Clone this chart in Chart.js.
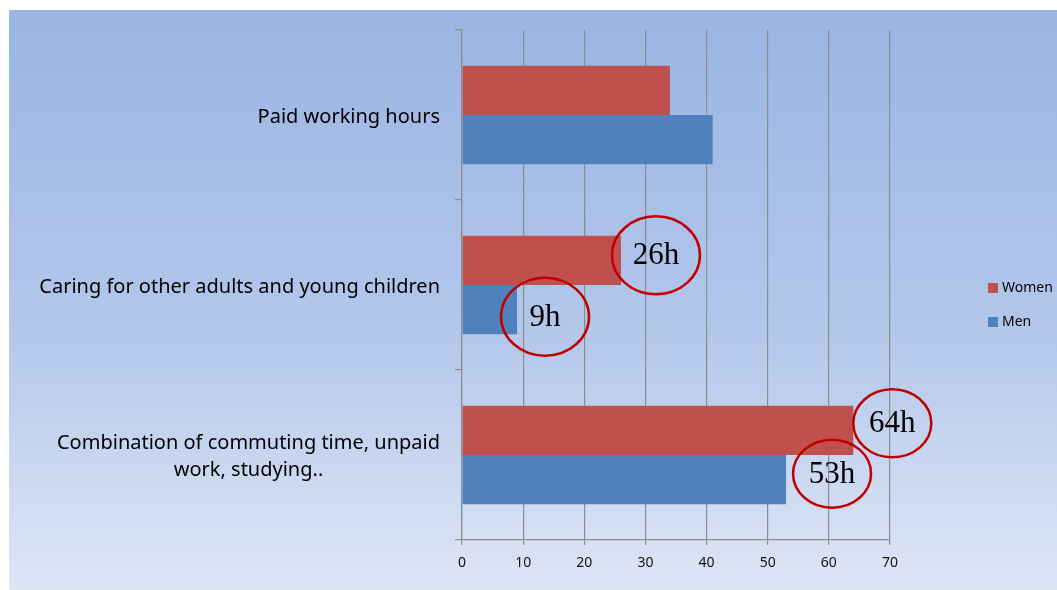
<!DOCTYPE html>
<html>
<head>
<meta charset="utf-8">
<script src="https://cdn.jsdelivr.net/npm/chart.js@4/dist/chart.umd.min.js"></script>
<style>
  html, body { margin: 0; padding: 0; background: #fff; }
  #wrap {
    position: absolute; left: 9px; top: 10px; width: 1048px; height: 580px;
    background: linear-gradient(to bottom, #9ab5e3 0%, #b3c7eb 55%, #dee6f5 100%);
  }
  canvas { display: block; }
</style>
</head>
<body>
<div id="wrap"><canvas id="chart" width="1048" height="580"></canvas></div>
<script>
const categories = [
  ["Paid working hours"],
  ["Caring for other adults and young children"],
  ["Combination of commuting time, unpaid", "work, studying.."],
];
const women = [34, 26, 64];
const men = [41, 9, 53];
const xTicks = [0, 10, 20, 30, 40, 50, 60, 70];

// which bars get a circled label: [dataset index, category index]
const circled = [[0, 1], [1, 1], [0, 2], [1, 2]];
// ellipse placement relative to the bar end (style only)
const circleStyle = [
  { dx: 35, dy: -5, rx: 44, ry: 39 },
  { dx: 28, dy: 7, rx: 44, ry: 39 },
  { dx: 39, dy: -7, rx: 39, ry: 34 },
  { dx: 46, dy: -6, rx: 39, ry: 34 },
];

const gridGray = "#8c8c8c";
const sans = "'Noto Sans', 'Open Sans', sans-serif";
const labelFont = "20px " + sans;

// category labels: block right aligned, lines centred within the block
const categoryLabels = {
  id: "categoryLabels",
  afterDraw(chart) {
    const ctx = chart.ctx;
    const y = chart.scales.y;
    ctx.save();
    ctx.font = labelFont;
    ctx.fillStyle = "#000";
    ctx.textBaseline = "middle";
    ctx.textAlign = "center";
    const lineH = 27;
    categories.forEach((lines, i) => {
      const cy = y.getPixelForValue(i) + 2;
      const w = Math.max(...lines.map((l) => ctx.measureText(l).width));
      const cx = y.right - 22 - w / 2;
      lines.forEach((l, k) => {
        ctx.fillText(l, cx, cy + (k - (lines.length - 1) / 2) * lineH);
      });
    });
    ctx.restore();
  },
};

const circles = {
  id: "circles",
  afterDatasetsDraw(chart) {
    const ctx = chart.ctx;
    ctx.save();
    circled.forEach(([ds, i], n) => {
      const el = chart.getDatasetMeta(ds).data[i];
      const s = circleStyle[n];
      const cx = el.x + s.dx;
      const cy = el.y + s.dy;
      ctx.beginPath();
      ctx.ellipse(cx, cy, s.rx, s.ry, 0, 0, Math.PI * 2);
      ctx.strokeStyle = "#c00000";
      ctx.lineWidth = 2.5;
      ctx.stroke();
      ctx.fillStyle = "#000";
      ctx.font = "31px 'Liberation Serif', 'Times New Roman', serif";
      ctx.textAlign = "center";
      ctx.textBaseline = "middle";
      ctx.fillText(chart.data.datasets[ds].data[i] + "h", cx, cy + 1);
    });
    ctx.restore();
  },
};

const sideLegend = {
  id: "sideLegend",
  afterDraw(chart) {
    const ctx = chart.ctx;
    ctx.save();
    ctx.font = "14px " + sans;
    ctx.textBaseline = "middle";
    ctx.textAlign = "left";
    chart.data.datasets.forEach((d, k) => {
      const top = 273 + k * 34;
      ctx.fillStyle = d.backgroundColor;
      ctx.fillRect(979, top, 10, 10);
      ctx.fillStyle = "#000";
      ctx.fillText(d.label, 993, top + 5);
    });
    ctx.restore();
  },
};

new Chart(document.getElementById("chart"), {
  type: "bar",
  data: {
    labels: categories,
    datasets: [
      { label: "Women", data: women, backgroundColor: "#c0504d" },
      { label: "Men", data: men, backgroundColor: "#4f81bd" },
    ],
  },
  options: {
    indexAxis: "y",
    responsive: false,
    animation: false,
    categoryPercentage: 0.58,
    barPercentage: 1.0,
    layout: { padding: { top: 20, right: 167, bottom: 20, left: 0 } },
    plugins: { legend: { display: false }, tooltip: { enabled: false } },
    scales: {
      x: {
        min: 0,
        max: 70,
        afterBuildTicks: (s) => { s.ticks = xTicks.map((v) => ({ value: v })); },
        afterFit: (s) => { s.height = 30; },
        grid: { color: gridGray, lineWidth: 1.2, tickLength: 5 },
        border: { color: gridGray, width: 1.2 },
        ticks: {
          padding: 10,
          color: "#111",
          font: { family: sans, size: 14 },
        },
      },
      y: {
        afterFit: (s) => { s.width = 453; },
        grid: { drawOnChartArea: false, color: gridGray, lineWidth: 1.2, tickLength: 7 },
        border: { color: gridGray, width: 1.2 },
        ticks: { display: false },
      },
    },
  },
  plugins: [categoryLabels, circles, sideLegend],
});
</script>
</body>
</html>
